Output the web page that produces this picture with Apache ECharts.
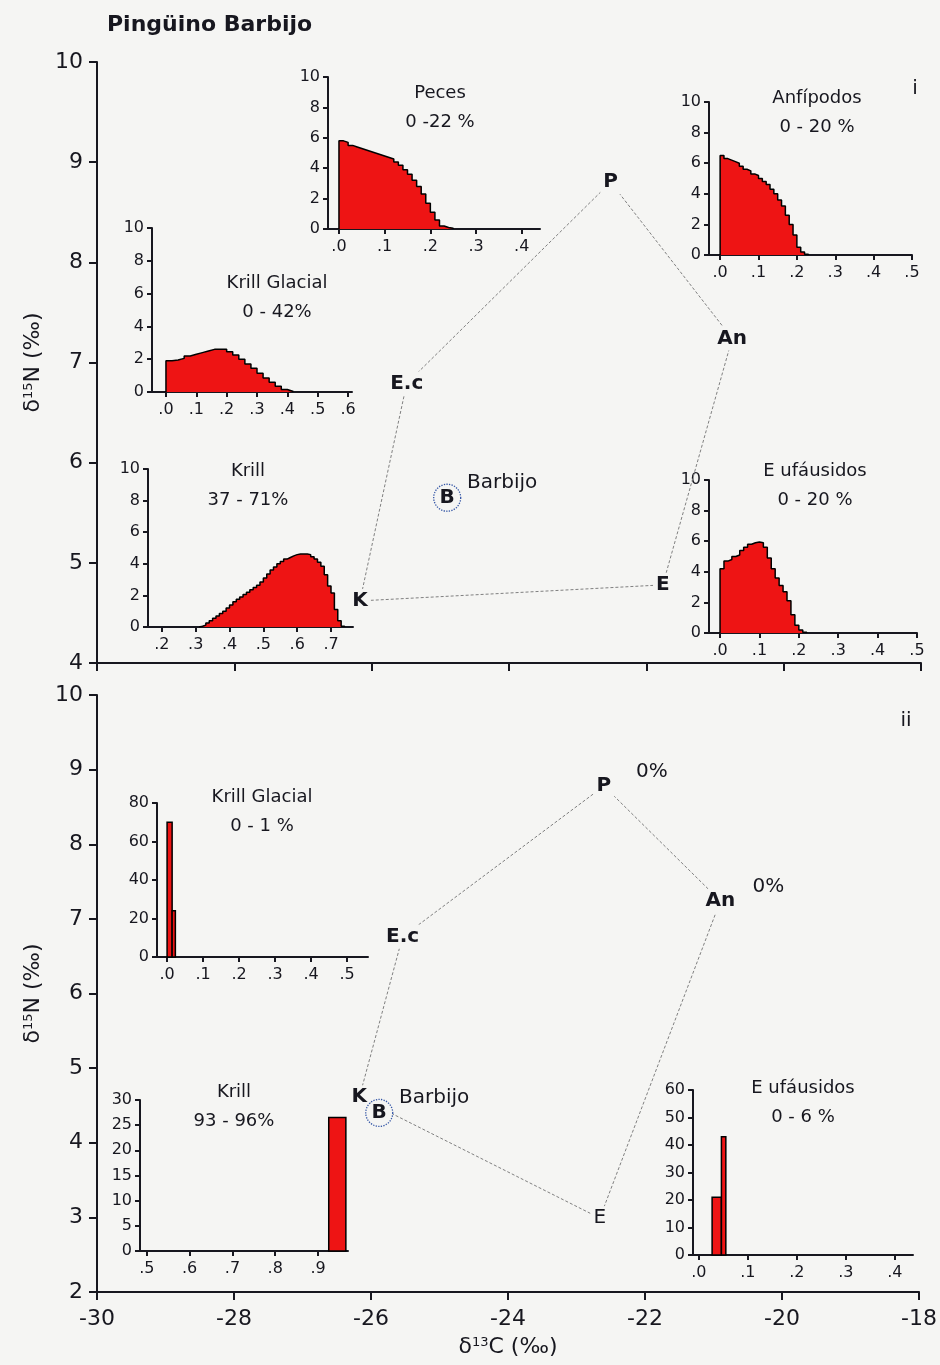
<!DOCTYPE html>
<html><head><meta charset="utf-8">
<script src="https://cdn.jsdelivr.net/npm/echarts@6/dist/echarts.min.js"></script>
<style>html,body{margin:0;padding:0;background:#f5f5f3}#c{width:940px;height:1365px}</style>
</head><body><div id="c"></div><script>
// ---------- DATA ----------
const vertexNames = ['E.c', 'P', 'An', 'E', 'K'];
// panel i
const topVertexX = [-25.49, -22.52, -20.75, -21.76, -26.17];
const topVertexY = [6.79, 8.80, 7.24, 4.78, 4.62];
const topBarbijo = [-24.90, 5.65];
// panel ii
const botVertexX = [-25.54, -22.60, -20.90, -22.66, -26.17];
const botVertexY = [6.76, 8.78, 7.24, 2.99, 4.61];
const botBarbijo = [-25.88, 4.40];
const botPct = ['', '0%', '0%', '', ''];

// histograms panel i (bin start, bin width, heights)
const pecesStart = 0, pecesBin = 0.01;
const pecesH = [5.8, 5.7, 5.5, 5.4, 5.3, 5.2, 5.1, 5.0, 4.9, 4.8, 4.7, 4.6, 4.4, 4.2, 3.9, 3.6, 3.2, 2.8, 2.3, 1.7, 1.1, 0.6, 0.2, 0.1, 0.05];
const anfStart = 0, anfBin = 0.01;
const anfH = [6.5, 6.3, 6.2, 6.1, 6.0, 5.8, 5.6, 5.5, 5.3, 5.2, 5.0, 4.8, 4.6, 4.3, 4.0, 3.6, 3.2, 2.6, 2.0, 1.3, 0.5, 0.2, 0.05];
const kgStart = 0, kgBin = 0.02;
const kgH = [1.9, 1.95, 2.05, 2.2, 2.3, 2.4, 2.5, 2.6, 2.6, 2.6, 2.45, 2.25, 2.0, 1.7, 1.45, 1.15, 0.85, 0.6, 0.35, 0.15, 0.03];
const krillStart = 0.31, krillBin = 0.01;
const krillH = [0.05, 0.12, 0.25, 0.4, 0.55, 0.7, 0.85, 1.0, 1.2, 1.4, 1.6, 1.75, 1.9, 2.05, 2.2, 2.35, 2.5, 2.65, 2.85, 3.1, 3.35, 3.6, 3.8, 4.0, 4.15, 4.3, 4.4, 4.5, 4.58, 4.62, 4.62, 4.62, 4.58, 4.45, 4.3, 4.1, 3.85, 3.3, 2.6, 2.15, 1.1, 0.4, 0.05];
const eufStart = 0, eufBin = 0.01;
const eufH = [4.2, 4.7, 4.8, 5.0, 5.1, 5.4, 5.6, 5.8, 5.9, 5.95, 5.9, 5.6, 4.9, 4.2, 3.6, 3.1, 2.7, 2.1, 1.2, 0.5, 0.2, 0.05];

// histograms panel ii (bars: left edge, right edge, height)
const kgBotLeft = [0, 0.014], kgBotRight = [0.014, 0.023], kgBotH = [70, 24];
const krillBotLeft = [0.925], krillBotRight = [0.965], krillBotH = [26.5];
const eufBotLeft = [0.027, 0.046], eufBotRight = [0.046, 0.055], eufBotH = [21, 43];

// tick values
const tenthTicks05 = [0, 0.1, 0.2, 0.3, 0.4, 0.5];
const tenthTicks04 = [0, 0.1, 0.2, 0.3, 0.4];
const tenthTicks06 = [0, 0.1, 0.2, 0.3, 0.4, 0.5, 0.6];
const tenthTicksKrill = [0.2, 0.3, 0.4, 0.5, 0.6, 0.7];
const tenthTicksKrillBot = [0.5, 0.6, 0.7, 0.8, 0.9];

// ---------- CHART ----------
const FONT = 'DejaVu Sans';
const INK = '#17171f';
const BG = '#f5f5f3';
const RED = '#ee1414';

const grids = [], xAxes = [], yAxes = [], series = [], graphics = [];

const richName = {
  d: {fontSize: 22, fontFamily: FONT, color: INK},
  s: {fontSize: 13, fontFamily: FONT, color: INK, verticalAlign: 'top', lineHeight: 14},
  n: {fontSize: 22, fontFamily: FONT, color: INK}
};
function mainY(gi, min, name) {
  return {
    type: 'value', gridIndex: gi, min: min, max: 10, interval: 1,
    axisLine: {show: true, onZero: false, lineStyle: {color: INK, width: 2}},
    axisTick: {show: true, length: 8, lineStyle: {color: INK, width: 2}},
    axisLabel: {fontSize: 22, fontFamily: FONT, color: INK, margin: 14},
    splitLine: {show: false},
    name: name, nameLocation: 'middle', nameRotate: 90, nameGap: 52,
    nameTextStyle: {fontFamily: FONT, color: INK, rich: richName}
  };
}
function mainX(gi, labels, name) {
  return {
    type: 'value', gridIndex: gi, min: -30, max: -18, interval: 2,
    axisLine: {show: true, onZero: false, lineStyle: {color: INK, width: 2}},
    axisTick: {show: true, length: 8, lineStyle: {color: INK, width: 2}},
    axisLabel: {show: labels, fontSize: 22, fontFamily: FONT, color: INK, margin: 16},
    splitLine: {show: false},
    name: name, nameLocation: 'middle', nameGap: 44,
    nameTextStyle: {fontFamily: FONT, color: INK, rich: richName}
  };
}

grids.push({left: 97, top: 62, width: 824, height: 601});
grids.push({left: 97, top: 695, width: 824, height: 597});
xAxes.push(mainX(0, false, ''));
xAxes.push(mainX(1, true, '{d|δ}{s|13}{n|C (‰)}'));
yAxes.push(mainY(0, 4, '{d|δ}{s|15}{n|N (‰)}'));
yAxes.push(mainY(1, 2, '{d|δ}{s|15}{n|N (‰)}'));

function polygon(xs, ys) {
  const d = xs.map((x, i) => [x, ys[i]]);
  d.push([xs[0], ys[0]]);
  return d;
}
const labelBase = {show: true, position: 'inside', formatter: '{b}', fontFamily: FONT, fontSize: 20, color: INK, opacity: 1};
function addMain(gi, vx, vy, barb, pct) {
  series.push({type: 'line', xAxisIndex: gi, yAxisIndex: gi, data: polygon(vx, vy), symbol: 'none',
    lineStyle: {color: '#808080', width: 1, type: [3, 2]}, z: 2, silent: true});
  series.push({type: 'scatter', xAxisIndex: gi, yAxisIndex: gi, symbolSize: 1, itemStyle: {color: BG, opacity: 1},
    data: vx.map((x, i) => ({value: [x, vy[i]], name: vertexNames[i],
      label: {fontWeight: (gi === 1 && vertexNames[i] === 'E') ? 'normal' : 'bold'}})),
    label: Object.assign({}, labelBase, {fontWeight: 'bold', backgroundColor: BG, padding: [2, 3]}), z: 3, silent: true});
  if (pct) {
    series.push({type: 'scatter', xAxisIndex: gi, yAxisIndex: gi, symbolSize: 0, itemStyle: {opacity: 1},
      data: vx.map((x, i) => ({value: [x, vy[i]], name: pct[i]})),
      label: Object.assign({}, labelBase, {offset: [48, -14]}),
      z: 3, silent: true});
  }
  series.push({type: 'scatter', xAxisIndex: gi, yAxisIndex: gi, symbol: 'circle', symbolSize: 27,
    itemStyle: {color: BG, opacity: 1, borderColor: '#3456a6', borderWidth: 1.3, borderType: 'dotted'},
    data: [{value: barb, name: 'B'}],
    label: Object.assign({}, labelBase, {fontWeight: 'bold'}),
    z: 4, silent: true});
  series.push({type: 'scatter', xAxisIndex: gi, yAxisIndex: gi, symbolSize: 0, itemStyle: {opacity: 1},
    data: [{value: barb, name: 'Barbijo'}],
    label: Object.assign({}, labelBase, {offset: [55, -15]}),
    z: 4, silent: true});
}
addMain(0, topVertexX, topVertexY, topBarbijo, null);
addMain(1, botVertexX, botVertexY, botBarbijo, botPct);

function addInsetAxes(o) {
  const gi = grids.length;
  grids.push({left: o.left, top: o.top, width: o.width, height: o.height});
  xAxes.push({type: 'value', gridIndex: gi, min: o.xMin, max: o.xMax,
    axisLine: {show: true, onZero: false, lineStyle: {color: INK, width: 2}},
    axisTick: {show: true, length: 5, customValues: o.xTicks, lineStyle: {color: INK, width: 2}},
    axisLabel: {customValues: o.xTicks, formatter: v => '.' + Math.round(v * 10), fontSize: 16, fontFamily: FONT, color: INK, margin: 10},
    splitLine: {show: false}});
  yAxes.push({type: 'value', gridIndex: gi, min: 0, max: o.yMax, interval: o.yInt,
    axisLine: {show: true, onZero: false, lineStyle: {color: INK, width: 2}},
    axisTick: {show: true, length: 5, lineStyle: {color: INK, width: 2}},
    axisLabel: {fontSize: 16, fontFamily: FONT, color: INK, margin: 8},
    splitLine: {show: false}});
  graphics.push({type: 'text', x: o.tx, y: o.ty, style: {text: o.title, fontFamily: FONT, fontSize: 18, fill: INK, align: 'center', verticalAlign: 'middle'}});
  graphics.push({type: 'text', x: o.tx, y: o.ty + 29, style: {text: o.sub, fontFamily: FONT, fontSize: 18, fill: INK, align: 'center', verticalAlign: 'middle'}});
  return gi;
}
function stepData(start, w, h) {
  const d = [[start, 0]];
  h.forEach((v, i) => d.push([+(start + i * w).toFixed(4), v]));
  d.push([+(start + h.length * w).toFixed(4), 0]);
  return d;
}
function addStep(gi, start, w, h) {
  series.push({type: 'line', xAxisIndex: gi, yAxisIndex: gi, data: stepData(start, w, h), step: 'end', symbol: 'none',
    lineStyle: {color: '#000', width: 1.5}, areaStyle: {color: RED, opacity: 1}, z: 2, silent: true});
}
function addBars(gi, lefts, rights, hs) {
  series.push({type: 'custom', xAxisIndex: gi, yAxisIndex: gi, silent: true, z: 2,
    data: lefts.map((l, i) => [l, rights[i], hs[i]]),
    encode: {x: [0, 1], y: 2},
    renderItem: (params, api) => {
      const p0 = api.coord([api.value(0), api.value(2)]);
      const p1 = api.coord([api.value(1), 0]);
      return {type: 'rect', shape: {x: p0[0], y: p0[1], width: p1[0] - p0[0], height: p1[1] - p0[1]},
        style: {fill: RED, stroke: '#000', lineWidth: 1.5}};
    }});
}

// panel i insets
let g;
g = addInsetAxes({left: 328, top: 77, width: 212, height: 152, xMin: -0.024, xMax: 0.44, xTicks: tenthTicks04, yMax: 10, yInt: 2, title: 'Peces', sub: '0 -22 %', tx: 440, ty: 93});
addStep(g, pecesStart, pecesBin, pecesH);
g = addInsetAxes({left: 709, top: 102, width: 203, height: 153, xMin: -0.029, xMax: 0.5, xTicks: tenthTicks05, yMax: 10, yInt: 2, title: 'Anfípodos', sub: '0 - 20 %', tx: 817, ty: 98});
addStep(g, anfStart, anfBin, anfH);
g = addInsetAxes({left: 152, top: 228, width: 200, height: 164, xMin: -0.046, xMax: 0.613, xTicks: tenthTicks06, yMax: 10, yInt: 2, title: 'Krill Glacial', sub: '0 - 42%', tx: 277, ty: 283});
addStep(g, kgStart, kgBin, kgH);
g = addInsetAxes({left: 148, top: 469, width: 205, height: 158, xMin: 0.159, xMax: 0.765, xTicks: tenthTicksKrill, yMax: 10, yInt: 2, title: 'Krill', sub: '37 - 71%', tx: 248, ty: 471});
addStep(g, krillStart, krillBin, krillH);
g = addInsetAxes({left: 709, top: 480, width: 208, height: 153, xMin: -0.028, xMax: 0.5, xTicks: tenthTicks05, yMax: 10, yInt: 2, title: 'E ufáusidos', sub: '0 - 20 %', tx: 815, ty: 471});
addStep(g, eufStart, eufBin, eufH);
// panel ii insets
g = addInsetAxes({left: 157, top: 803, width: 211, height: 154, xMin: -0.028, xMax: 0.558, xTicks: tenthTicks05, yMax: 80, yInt: 20, title: 'Krill Glacial', sub: '0 - 1 %', tx: 262, ty: 797});
addBars(g, kgBotLeft, kgBotRight, kgBotH);
g = addInsetAxes({left: 140, top: 1100, width: 208, height: 151, xMin: 0.484, xMax: 0.97, xTicks: tenthTicksKrillBot, yMax: 30, yInt: 5, title: 'Krill', sub: '93 - 96%', tx: 234, ty: 1092});
addBars(g, krillBotLeft, krillBotRight, krillBotH);
g = addInsetAxes({left: 693, top: 1090, width: 220, height: 165, xMin: -0.012, xMax: 0.437, xTicks: tenthTicks04, yMax: 60, yInt: 10, title: 'E ufáusidos', sub: '0 - 6 %', tx: 803, ty: 1088});
addBars(g, eufBotLeft, eufBotRight, eufBotH);

graphics.push({type: 'text', x: 107, y: 25, style: {text: 'Pingüino Barbijo', fontFamily: FONT, fontWeight: 'bold', fontSize: 22, fill: INK, align: 'left', verticalAlign: 'middle'}});
graphics.push({type: 'text', x: 915, y: 89, style: {text: 'i', fontFamily: FONT, fontSize: 20, fill: INK, align: 'center', verticalAlign: 'middle'}});
graphics.push({type: 'text', x: 906, y: 721, style: {text: 'ii', fontFamily: FONT, fontSize: 20, fill: INK, align: 'center', verticalAlign: 'middle'}});

const chart = echarts.init(document.getElementById('c'), null, {renderer: 'canvas'});
chart.setOption({
  backgroundColor: BG,
  animation: false,
  grid: grids,
  xAxis: xAxes,
  yAxis: yAxes,
  series: series,
  graphic: graphics
});
</script></body></html>
